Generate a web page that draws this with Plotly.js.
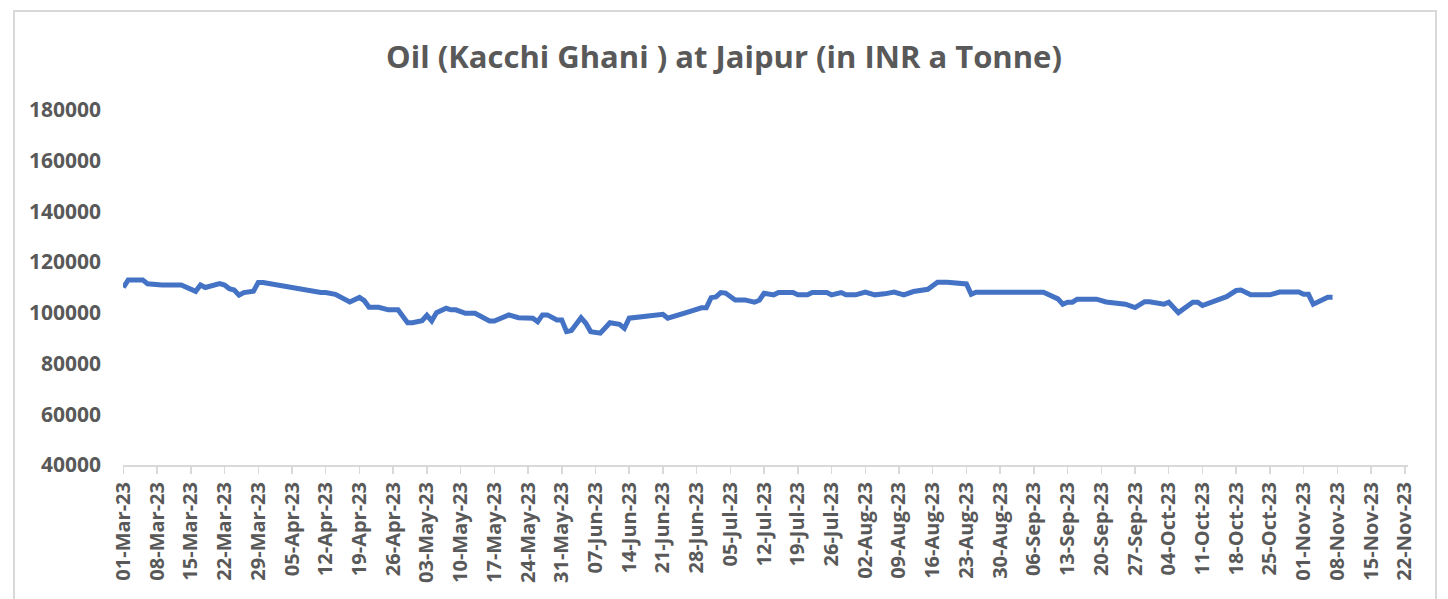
<!DOCTYPE html>
<html>
<head>
<meta charset="utf-8">
<script src="https://cdn.plot.ly/plotly-3.0.1.min.js"></script>
<style>
  html, body { margin: 0; padding: 0; background: #ffffff; }
  #wrap { position: relative; width: 1448px; height: 599px; overflow: hidden; }
  #chart { position: absolute; left: 0; top: 0; width: 1448px; height: 599px; }
  #frame { position: absolute; left: 13px; top: 10px; width: 1424px; height: 620px;
           border: 2px solid #d9d9d9; box-sizing: border-box; pointer-events: none; }
</style>
</head>
<body>
<div id="wrap">
  <div id="chart"></div>
  <div id="frame"></div>
</div>
<script>
const chartTitle = "Oil (Kacchi Ghani ) at Jaipur (in INR a Tonne)";

const dates = [
  "2023-03-01","2023-03-02","2023-03-05","2023-03-06","2023-03-09","2023-03-13","2023-03-16","2023-03-17",
  "2023-03-18","2023-03-21","2023-03-22","2023-03-23","2023-03-24","2023-03-25","2023-03-26","2023-03-28",
  "2023-03-29","2023-03-30","2023-04-11","2023-04-12","2023-04-14","2023-04-17","2023-04-19","2023-04-20",
  "2023-04-21","2023-04-23","2023-04-25","2023-04-27","2023-04-29","2023-04-30","2023-05-02","2023-05-03",
  "2023-05-04","2023-05-05","2023-05-07","2023-05-08","2023-05-09","2023-05-11","2023-05-13","2023-05-16",
  "2023-05-17","2023-05-19","2023-05-20","2023-05-22","2023-05-25","2023-05-26","2023-05-27","2023-05-28",
  "2023-05-30","2023-05-31","2023-06-01","2023-06-02","2023-06-04","2023-06-05","2023-06-06","2023-06-08",
  "2023-06-10","2023-06-12","2023-06-13","2023-06-14","2023-06-20","2023-06-21","2023-06-22","2023-06-24",
  "2023-06-26","2023-06-29","2023-06-30","2023-07-01","2023-07-02","2023-07-03","2023-07-04","2023-07-06",
  "2023-07-08","2023-07-10","2023-07-11","2023-07-12","2023-07-14","2023-07-15","2023-07-18","2023-07-19",
  "2023-07-21","2023-07-22","2023-07-25","2023-07-26","2023-07-28","2023-07-29","2023-07-31","2023-08-02",
  "2023-08-04","2023-08-06","2023-08-08","2023-08-10","2023-08-12","2023-08-15","2023-08-17","2023-08-19",
  "2023-08-22","2023-08-23","2023-08-24","2023-08-25","2023-09-07","2023-09-08","2023-09-11","2023-09-12",
  "2023-09-13","2023-09-14","2023-09-15","2023-09-19","2023-09-21","2023-09-25","2023-09-27","2023-09-29",
  "2023-09-30","2023-10-03","2023-10-04","2023-10-06","2023-10-09","2023-10-10","2023-10-11","2023-10-12",
  "2023-10-16","2023-10-18","2023-10-19","2023-10-21","2023-10-25","2023-10-27","2023-10-31","2023-11-01",
  "2023-11-02","2023-11-03","2023-11-06","2023-11-07"
];

const prices = [
  110000,113000,113000,111500,111000,111000,108500,111000,
  110000,111500,111000,109500,109000,107000,108000,108500,
  112000,112000,108000,108000,107300,104300,106100,104800,
  102200,102200,101200,101200,96100,96100,96900,99000,
  96800,100100,101800,101200,101200,99800,99800,96800,
  96800,98100,99200,98100,97900,96500,99200,99200,
  97200,97200,92600,93000,98100,95900,92600,92000,
  96100,95500,93900,97900,99450,99450,97900,98900,
  100200,102000,102000,106000,106300,108000,107800,105100,
  105100,104200,105000,107700,107100,108000,108000,107100,
  107100,108000,108000,107100,108000,107100,107100,108200,
  107100,107500,108200,107100,108400,109300,112100,112100,
  111400,111400,107300,108100,108100,108100,105500,103400,
  104200,104200,105400,105400,104300,103400,102100,104400,
  104400,103400,104200,100100,104200,104200,102900,103500,
  106400,108800,109000,107100,107100,108200,108200,107300,
  107300,103400,106200,106200
];

const xRange = ["2023-02-28 22:00", "2023-11-22 16:00"];
const yRange = [40000, 180000];

const labelColor = "#595959";
const fontFam = "'Open Sans', 'DejaVu Sans', sans-serif";

const trace = {
  type: "scatter",
  mode: "lines",
  x: dates,
  y: prices,
  line: { color: "#4472C4", width: 5, shape: "linear" },
  hoverinfo: "x+y"
};

const layout = {
  width: 1448,
  height: 599,
  margin: { l: 123, r: 40, t: 110, b: 134 },
  paper_bgcolor: "#ffffff",
  plot_bgcolor: "#ffffff",
  showlegend: false,
  title: {
    text: "<b>" + chartTitle + "</b>",
    font: { family: fontFam, size: 31, color: labelColor },
    x: 0.5, xanchor: "center",
    y: 1 - 57 / 599, yanchor: "middle", yref: "container"
  },
  xaxis: {
    type: "date",
    range: xRange,
    tick0: "2023-03-01",
    dtick: 7 * 24 * 3600 * 1000,
    tickformat: "%d-%b-%y",
    tickangle: -90,
    ticks: "outside",
    ticklen: 7,
    tickwidth: 1.5,
    tickcolor: "#d9d9d9",
    showline: true,
    linecolor: "#d9d9d9",
    linewidth: 2,
    showgrid: false,
    zeroline: false,
    tickfont: { family: fontFam, size: 20, color: labelColor, weight: "bold" },
    ticklabelstandoff: 0
  },
  yaxis: {
    range: yRange,
    dtick: 20000,
    tick0: 0,
    tickformat: "d",
    showline: false,
    showgrid: false,
    zeroline: false,
    ticks: "",
    tickfont: { family: fontFam, size: 21, color: labelColor, weight: "bold" },
    ticklabelstandoff: 21
  }
};

Plotly.newPlot("chart", [trace], layout, { displayModeBar: false, staticPlot: true });
</script>
</body>
</html>
